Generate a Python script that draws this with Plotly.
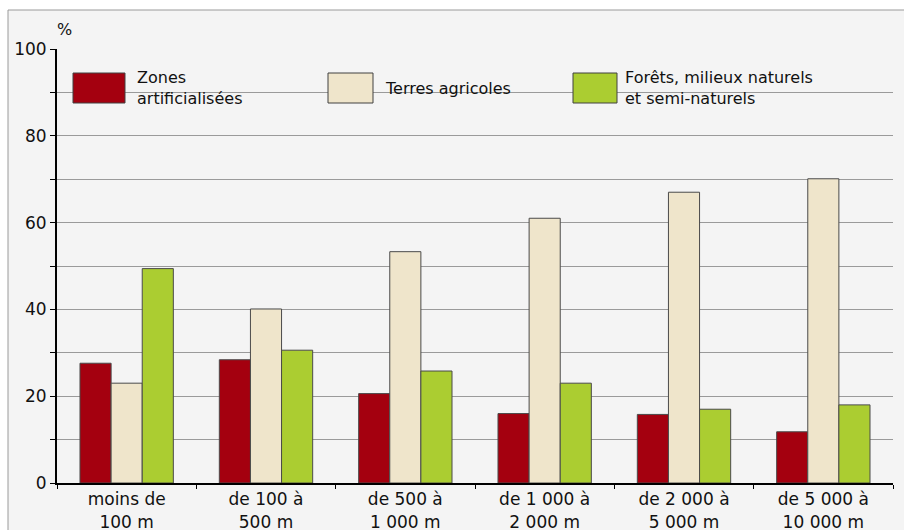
import plotly.graph_objects as go

categories = ["moins de<br>100 m", "de 100 à<br>500 m", "de 500 à<br>1 000 m",
              "de 1 000 à<br>2 000 m", "de 2 000 à<br>5 000 m", "de 5 000 à<br>10 000 m"]
zones_artificialisees = [27.6, 28.4, 20.6, 16.0, 15.8, 11.8]
terres_agricoles = [23.0, 40.1, 53.3, 61.0, 67.0, 70.1]
forets_milieux = [49.4, 30.6, 25.8, 23.0, 17.0, 18.0]

series_names = ["Zones<br>artificialisées", "Terres agricoles", "Forêts, milieux naturels<br>et semi-naturels"]
series_values = [zones_artificialisees, terres_agricoles, forets_milieux]
series_colors = ["#a4000f", "#efe5cb", "#abcd31"]

y_tickvals = list(range(0, 101, 10))
y_ticktext = [str(v) if v % 20 == 0 else "" for v in y_tickvals]

FONT = "DejaVu Sans, Arial, sans-serif"

fig = go.Figure()
for name, vals, col in zip(series_names, series_values, series_colors):
    fig.add_trace(go.Bar(
        x=categories, y=vals, name=name,
        marker=dict(color=col, line=dict(color="#4a4a4a", width=1)),
        showlegend=False,
    ))

W, H = 904, 530
ml, mr, mt, mb = 57, 11, 49, 47
pw, ph = W - ml - mr, H - mt - mb

def px_x(p):
    return (p - ml) / pw

def px_y(p):
    return (H - mb - p) / ph

shapes = [
    # frame
    dict(type="rect", xref="paper", yref="paper",
         x0=px_x(8), x1=px_x(930), y0=px_y(10), y1=px_y(570),
         fillcolor="#f4f4f4", line=dict(color="#9a9a9a", width=1), layer="below"),
]
annotations = [
    dict(text="%", xref="paper", yref="paper", x=px_x(55), y=px_y(30),
         xanchor="left", yanchor="middle", showarrow=False,
         font=dict(family=FONT, size=16, color="#111")),
]

legend_boxes = [(73, 125, 135), (328, 373, 383), (573, 617, 623)]
for (x0, x1, tx), name, col in zip(legend_boxes, series_names, series_colors):
    shapes.append(dict(type="rect", xref="paper", yref="paper",
                       x0=px_x(x0), x1=px_x(x1), y0=px_y(103), y1=px_y(73),
                       fillcolor=col, line=dict(color="#404040", width=1), layer="above"))
    annotations.append(dict(text=name, xref="paper", yref="paper",
                            x=px_x(tx), y=px_y(88), xanchor="left", yanchor="middle",
                            align="left", showarrow=False,
                            font=dict(family=FONT, size=16, color="#111")))

fig.update_layout(
    width=W, height=H,
    margin=dict(l=ml, r=mr, t=mt, b=mb),
    paper_bgcolor="white",
    plot_bgcolor="rgba(0,0,0,0)",
    barmode="group",
    bargap=0.33,
    bargroupgap=0,
    shapes=shapes,
    annotations=annotations,
    font=dict(family=FONT, size=16, color="#111"),
    xaxis=dict(
        showgrid=False, showline=True, linecolor="black", linewidth=2,
        ticks="outside", tickson="boundaries", ticklen=4, tickcolor="black",
        tickfont=dict(family=FONT, size=17, color="#111"),
        zeroline=False, automargin=False,
    ),
    yaxis=dict(
        range=[0, 100], tickvals=y_tickvals, ticktext=y_ticktext,
        showgrid=True, gridcolor="#9a9a9a", gridwidth=1,
        showline=True, linecolor="black", linewidth=2,
        ticks="outside", ticklen=5, tickcolor="black",
        tickfont=dict(family=FONT, size=17, color="#111"),
        zeroline=False, automargin=False,
    ),
)

fig.write_html("out.html", config={"displayModeBar": False},
               post_script="document.body.style.margin='0';")
